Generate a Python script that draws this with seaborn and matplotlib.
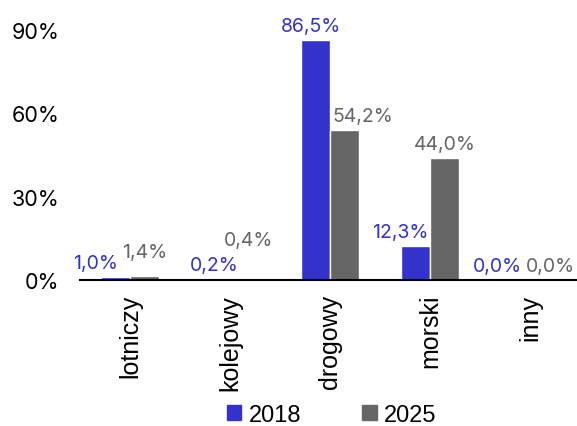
import pandas as pd
import seaborn as sns
import matplotlib.pyplot as plt

categories = ['lotniczy', 'kolejowy', 'drogowy', 'morski', 'inny']
years = ['2018', '2025']
values_2018 = [1.0, 0.2, 86.5, 12.3, 0.0]
values_2025 = [1.4, 0.4, 54.2, 44.0, 0.0]
colors = ['#3333CC', '#666666']

# label nudges (pixels) so small labels don't overlap
dx_2018 = [-20, -1, -5, -15, -18]
dy_2018 = [0, 0, 0, 0, 0]
dx_2025 = [0, 4, 18, 0, 6]
dy_2025 = [10, 25, 0, 0, 0]

df = pd.DataFrame({
    'kategoria': categories * 2,
    'rok': [years[0]] * 5 + [years[1]] * 5,
    'udzial': values_2018 + values_2025,
})

sns.set_style('white')
plt.rcParams['font.family'] = ['Inter', 'DejaVu Sans']
plt.rcParams['text.color'] = 'black'
plt.rcParams['xtick.color'] = 'black'
plt.rcParams['ytick.color'] = 'black'

fig = plt.figure(figsize=(5.77, 4.27), dpi=100)
ax = fig.add_axes([0.139, 0.342, 0.866, 0.585])

sns.barplot(data=df, x='kategoria', y='udzial', hue='rok', order=categories,
            hue_order=years, palette=colors, width=0.58, gap=0, saturation=1,
            ax=ax, legend=False)

ax.set_xlim(-0.5, 4.5)
ax.set_ylim(0, 90)
ax.set_yticks([0, 30, 60, 90])
ax.set_yticklabels(['0%', '30%', '60%', '90%'], fontsize=15.5)
ax.set_xticks(range(len(categories)))
ax.set_xticklabels(categories, rotation=90, fontsize=18, family='Liberation Sans')
ax.tick_params(axis='y', length=0, pad=15)
ax.tick_params(axis='x', length=0, pad=10)
ax.set_xlabel('')
ax.set_ylabel('')
for s in ['top', 'right', 'left']:
    ax.spines[s].set_visible(False)
ax.spines['bottom'].set_color('black')
ax.spines['bottom'].set_linewidth(1.5)

px = 72 / 100
for cont, dxs, dys, col in zip(ax.containers, [dx_2018, dx_2025], [dy_2018, dy_2025], colors):
    for bar, dx, dy in zip(cont, dxs, dys):
        h = bar.get_height()
        txt = f'{h:.1f}%'.replace('.', ',')
        ax.annotate(txt, (bar.get_x() + bar.get_width() / 2, h),
                    xytext=(dx * px, (5 + dy) * px), textcoords='offset points',
                    ha='center', va='bottom', fontsize=14, color=col,
                    annotation_clip=False)

handles = [plt.Rectangle((0, 0), 1, 1, color=c) for c in colors]
fig.legend(handles, years, loc='center', bbox_to_anchor=(0.575, 0.026), ncol=2,
           frameon=False, handlelength=0.6, handleheight=0.6, handletextpad=0.3,
           columnspacing=2.6, prop={'family': 'Liberation Sans', 'size': 17})

plt.savefig('out.png', dpi=100)
